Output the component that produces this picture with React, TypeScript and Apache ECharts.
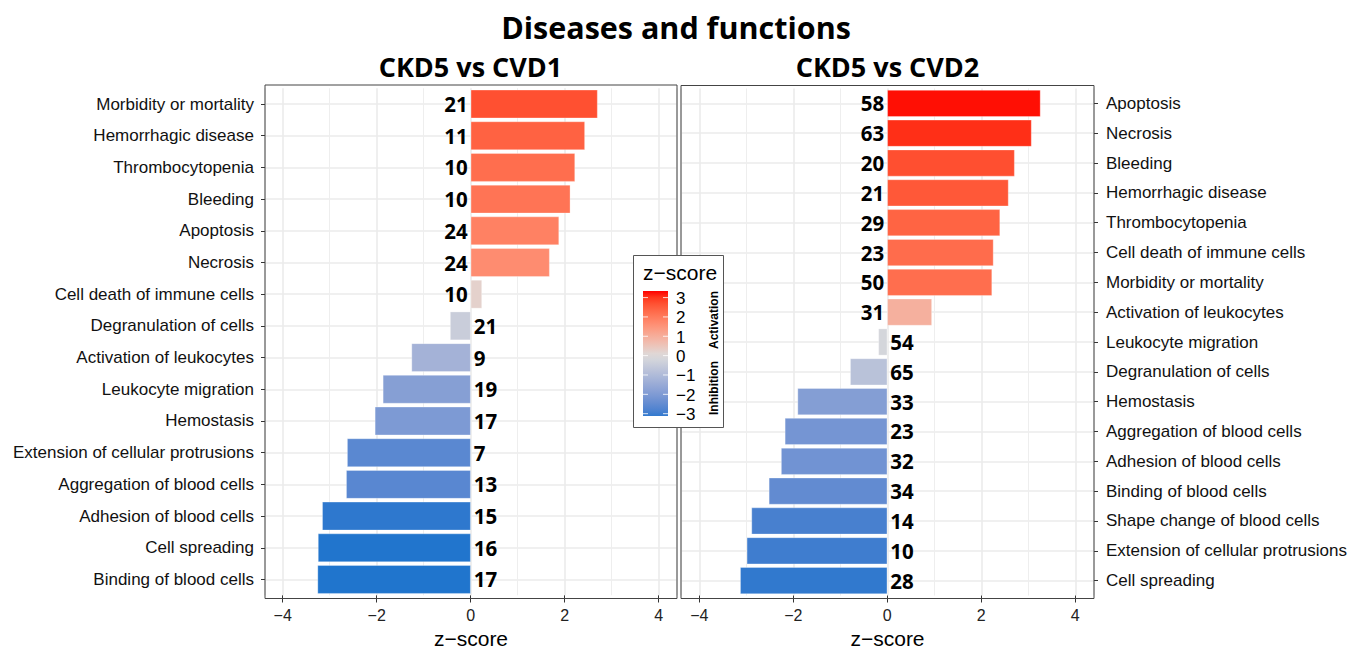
import React, { useEffect, useRef } from 'react';
import * as echarts from 'echarts';

const leftCategories = [
  'Morbidity or mortality', 'Hemorrhagic disease', 'Thrombocytopenia', 'Bleeding', 'Apoptosis',
  'Necrosis', 'Cell death of immune cells', 'Degranulation of cells', 'Activation of leukocytes',
  'Leukocyte migration', 'Hemostasis', 'Extension of cellular protrusions', 'Aggregation of blood cells',
  'Adhesion of blood cells', 'Cell spreading', 'Binding of blood cells',
];
const leftZ = [2.70, 2.43, 2.22, 2.12, 1.88, 1.68, 0.24, -0.44, -1.26, -1.87, -2.04, -2.63, -2.65, -3.16, -3.25, -3.26];
const leftCounts = [21, 11, 10, 10, 24, 24, 10, 21, 9, 19, 17, 7, 13, 15, 16, 17];

const rightCategories = [
  'Apoptosis', 'Necrosis', 'Bleeding', 'Hemorrhagic disease', 'Thrombocytopenia',
  'Cell death of immune cells', 'Morbidity or mortality', 'Activation of leukocytes', 'Leukocyte migration',
  'Degranulation of cells', 'Hemostasis', 'Aggregation of blood cells', 'Adhesion of blood cells',
  'Binding of blood cells', 'Shape change of blood cells', 'Extension of cellular protrusions', 'Cell spreading',
];
const rightZ = [3.26, 3.07, 2.71, 2.58, 2.40, 2.26, 2.23, 0.95, -0.19, -0.79, -1.91, -2.18, -2.26, -2.52, -2.89, -2.99, -3.13];
const rightCounts = [58, 63, 20, 21, 29, 23, 50, 31, 54, 65, 33, 23, 32, 34, 14, 10, 28];

const legendTicks = [3, 2, 1, 0, -1, -2, -3];

const LOW = '#1874CD';
const MID = '#DCDCDC';
const HIGH = '#FF0000';
const LIMIT = 3.3;

function hexToRgb(h: string): number[] {
  const s = h.replace('#', '');
  return [parseInt(s.slice(0, 2), 16), parseInt(s.slice(2, 4), 16), parseInt(s.slice(4, 6), 16)];
}
function srgbToLin(c: number) {
  c /= 255;
  return c <= 0.04045 ? c / 12.92 : Math.pow((c + 0.055) / 1.055, 2.4);
}
function linToSrgb(c: number) {
  const v = c <= 0.0031308 ? 12.92 * c : 1.055 * Math.pow(Math.max(c, 0), 1 / 2.4) - 0.055;
  return Math.round(Math.max(0, Math.min(1, v)) * 255);
}
function rgbToLab(rgb: number[]) {
  const R = srgbToLin(rgb[0]), G = srgbToLin(rgb[1]), B = srgbToLin(rgb[2]);
  const X = (0.4124 * R + 0.3576 * G + 0.1805 * B) / 0.95047;
  const Y = 0.2126 * R + 0.7152 * G + 0.0722 * B;
  const Z = (0.0193 * R + 0.1192 * G + 0.9505 * B) / 1.08883;
  const f = (t: number) => (t > 0.008856 ? Math.cbrt(t) : 7.787 * t + 16 / 116);
  const fx = f(X), fy = f(Y), fz = f(Z);
  return [116 * fy - 16, 500 * (fx - fy), 200 * (fy - fz)];
}
function labToHex(lab: number[]) {
  const fy = (lab[0] + 16) / 116, fx = fy + lab[1] / 500, fz = fy - lab[2] / 200;
  const finv = (t: number) => (t * t * t > 0.008856 ? t * t * t : (t - 16 / 116) / 7.787);
  const X = finv(fx) * 0.95047, Y = finv(fy), Z = finv(fz) * 1.08883;
  const R = 3.2406 * X - 1.5372 * Y - 0.4986 * Z;
  const G = -0.9689 * X + 1.8758 * Y + 0.0415 * Z;
  const B = 0.0557 * X - 0.204 * Y + 1.057 * Z;
  const to2 = (n: number) => n.toString(16).padStart(2, '0');
  return '#' + to2(linToSrgb(R)) + to2(linToSrgb(G)) + to2(linToSrgb(B));
}
const labLow = rgbToLab(hexToRgb(LOW));
const labMid = rgbToLab(hexToRgb(MID));
const labHigh = rgbToLab(hexToRgb(HIGH));
function colorFor(v: number) {
  const t = Math.max(-1, Math.min(1, v / LIMIT));
  const end = t >= 0 ? labHigh : labLow;
  const a = Math.abs(t);
  return labToHex([0, 1, 2].map((i) => labMid[i] + (end[i] - labMid[i]) * a));
}

const minusFmt = (v: number) => {
  if (Math.abs(v - Math.round(v)) > 1e-6 || Math.round(v) % 2 !== 0) return '';
  const r = Math.round(v);
  return r < 0 ? '\u2212' + Math.abs(r) : String(r);
};

const LABEL_FONT = 'Liberation Sans, Arial, sans-serif';
const BOLD_FONT = 'Open Sans, sans-serif';

function makeXAxis(gridIndex: number, min: number, max: number, shift: number) {
  return {
    type: 'value',
    gridIndex,
    min,
    max,
    axisLine: { show: false, onZero: false },
    axisTick: { show: true, length: 4 + shift, lineStyle: { color: '#333', width: 1 } },
    axisLabel: {
      formatter: minusFmt,
      color: '#222',
      fontSize: 16,
      fontFamily: LABEL_FONT,
      margin: 9 + shift,
      showMinLabel: false,
      showMaxLabel: false,
    },
    splitLine: { show: true, lineStyle: { color: '#EBEBEB', width: 1.6 } },
    minorTick: { show: false, splitNumber: 2 },
    minorSplitLine: { show: true, lineStyle: { color: '#EEEEEE', width: 1.1 } },
    name: 'z\u2212score',
    nameLocation: 'middle',
    nameGap: 29 + shift,
    nameTextStyle: { fontSize: 21, color: '#000', fontFamily: LABEL_FONT },
  };
}

function makeYAxis(gridIndex: number, data: string[], position: 'left' | 'right', margin: number) {
  return {
    type: 'category',
    gridIndex,
    data,
    inverse: true,
    position,
    axisLine: { show: false, onZero: false },
    axisTick: { show: true, alignWithLabel: true, length: 4, lineStyle: { color: '#333', width: 1 } },
    axisLabel: { fontSize: 17, color: '#111', fontFamily: LABEL_FONT, margin },
    splitLine: { show: true, alignWithLabel: true, lineStyle: { color: '#EBEBEB', width: 1.6 } },
  };
}

function makeSeries(idx: number, values: number[], counts: number[]) {
  return {
    type: 'bar',
    xAxisIndex: idx,
    yAxisIndex: idx,
    barCategoryGap: '10%',
    data: values.map((v) => ({
      value: v,
      itemStyle: { color: colorFor(v) },
      label: { position: v >= 0 ? 'left' : 'right' },
    })),
    itemStyle: { borderColor: 'rgba(255,255,255,0.5)', borderWidth: 0.6 },
    label: {
      show: true,
      distance: 3,
      formatter: (p: any) => String(counts[p.dataIndex]),
      fontSize: 20.5,
      fontWeight: 'bold',
      color: '#000',
      fontFamily: BOLD_FONT,
    },
  };
}

export default function App() {
  const ref = useRef<HTMLDivElement>(null);
  useEffect(() => {
    if (!ref.current) return;
    const chart = echarts.init(ref.current, undefined, { renderer: 'svg' });

    // panel boxes
    const P0 = { x: 265, y: 85, w: 412, h: 513.5 };
    const P1 = { x: 681, y: 85.5, w: 413, h: 513 };
    // discrete axis expansion of 0.6 category units on each side
    const u0 = P0.h / (leftCategories.length - 1 + 1.2);
    const u1 = P1.h / (rightCategories.length - 1 + 1.2);
    const g0 = { top: P0.y + 0.1 * u0, height: leftCategories.length * u0 };
    const g1 = { top: P1.y + 0.1 * u1, height: rightCategories.length * u1 };
    const shift0 = P0.y + P0.h - (g0.top + g0.height);
    const shift1 = P1.y + P1.h - (g1.top + g1.height);

    // legend geometry
    const lbX = 643, lbW = 25, lbTop = 291, lbBot = 416;
    const vTop = 3.34, vBot = -3.12;
    const yOf = (v: number) => lbTop + ((vTop - v) / (vTop - vBot)) * (lbBot - lbTop);
    const stops: any[] = [];
    for (let i = 0; i <= 20; i++) {
      const t = i / 20;
      const v = vTop - t * (vTop - vBot);
      stops.push({ offset: t, color: colorFor(v) });
    }
    const legendEls: any[] = [
      {
        type: 'rect',
        shape: { x: 633.5, y: 255.5, width: 90, height: 172 },
        style: { fill: '#fff', stroke: '#555', lineWidth: 1 },
        z: 100,
      },
      {
        type: 'text',
        x: 643,
        y: 272,
        style: { text: 'z\u2212score', fontSize: 21, fontFamily: LABEL_FONT, fill: '#000', verticalAlign: 'middle', align: 'left' },
        z: 101,
      },
      {
        type: 'rect',
        shape: { x: lbX, y: lbTop, width: lbW, height: lbBot - lbTop },
        style: { fill: new echarts.graphic.LinearGradient(0, 0, 0, 1, stops) },
        z: 101,
      },
      {
        type: 'text',
        x: 714,
        y: 320,
        rotation: Math.PI / 2,
        style: { text: 'Activation', fontSize: 12, fontWeight: 'bold', fontFamily: LABEL_FONT, fill: '#000', align: 'center', verticalAlign: 'middle' },
        z: 101,
      },
      {
        type: 'text',
        x: 714,
        y: 388,
        rotation: Math.PI / 2,
        style: { text: 'Inhibition', fontSize: 12, fontWeight: 'bold', fontFamily: LABEL_FONT, fill: '#000', align: 'center', verticalAlign: 'middle' },
        z: 101,
      },
    ];
    legendTicks.forEach((v) => {
      const y = yOf(v);
      legendEls.push({
        type: 'line',
        shape: { x1: lbX, y1: y, x2: lbX + 5, y2: y },
        style: { stroke: 'rgba(255,255,255,0.8)', lineWidth: 1 },
        z: 102,
      });
      legendEls.push({
        type: 'line',
        shape: { x1: lbX + lbW - 5, y1: y, x2: lbX + lbW, y2: y },
        style: { stroke: 'rgba(255,255,255,0.8)', lineWidth: 1 },
        z: 102,
      });
      legendEls.push({
        type: 'text',
        x: 676,
        y: y + 1,
        style: { text: v < 0 ? '\u2212' + Math.abs(v) : String(v), fontSize: 17, fontFamily: LABEL_FONT, fill: '#000', align: 'left', verticalAlign: 'middle' },
        z: 101,
      });
    });

    const option: any = {
      animation: false,
      backgroundColor: '#fff',
      grid: [
        { left: P0.x, top: g0.top, width: P0.w, height: g0.height, containLabel: false, outerBoundsMode: 'none' },
        { left: P1.x, top: g1.top, width: P1.w, height: g1.height, containLabel: false, outerBoundsMode: 'none' },
      ],
      xAxis: [makeXAxis(0, -4.377, 4.389, shift0), makeXAxis(1, -4.389, 4.398, shift1)],
      yAxis: [makeYAxis(0, leftCategories, 'left', 11), makeYAxis(1, rightCategories, 'right', 12)],
      series: [makeSeries(0, leftZ, leftCounts), makeSeries(1, rightZ, rightCounts)],
      graphic: [
        {
          type: 'text',
          x: 676,
          y: 27,
          style: { text: 'Diseases and functions', fontSize: 30.5, fontWeight: 'bold', fontFamily: BOLD_FONT, fill: '#000', align: 'center', verticalAlign: 'middle' },
        },
        {
          type: 'text',
          x: 470.5,
          y: 66,
          style: { text: 'CKD5 vs CVD1', fontSize: 27, fontWeight: 'bold', fontFamily: BOLD_FONT, fill: '#000', align: 'center', verticalAlign: 'middle' },
        },
        {
          type: 'text',
          x: 887.5,
          y: 66,
          style: { text: 'CKD5 vs CVD2', fontSize: 27, fontWeight: 'bold', fontFamily: BOLD_FONT, fill: '#000', align: 'center', verticalAlign: 'middle' },
        },
        {
          type: 'rect',
          shape: { x: P0.x, y: P0.y, width: P0.w, height: P0.h },
          style: { fill: 'none', stroke: '#444', lineWidth: 1 },
          z: 50,
        },
        {
          type: 'rect',
          shape: { x: P1.x, y: P1.y, width: P1.w, height: P1.h },
          style: { fill: 'none', stroke: '#444', lineWidth: 1 },
          z: 50,
        },
        ...legendEls,
      ],
    };
    chart.setOption(option);
    return () => chart.dispose();
  }, []);
  return <div ref={ref} style={{ position: 'fixed', left: 0, top: 0, width: 1355, height: 650 }} />;
}
